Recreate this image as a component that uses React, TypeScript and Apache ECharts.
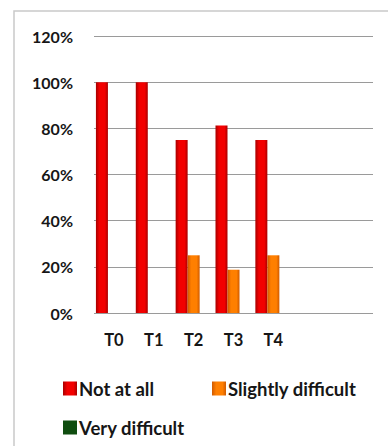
import React, { useEffect, useRef } from "react";
import * as echarts from "echarts";

// Time points (two trailing empty slots keep the plot's spacing)
const categories = ["T0", "T1", "T2", "T3", "T4", "", ""];
const notAtAll = [100, 100, 75, 81.25, 75, null, null];
const slightlyDifficult = [0, 0, 25, 18.75, 25, null, null];
const veryDifficult = [0, 0, 0, 0, 0, null, null];
const yTicks = [0, 20, 40, 60, 80, 100, 120];

const FONT = "Lato";
const TEXT = "#161616";

function barGradient(edge: string, mid: string) {
  return new echarts.graphic.LinearGradient(0, 0, 1, 0, [
    { offset: 0, color: edge },
    { offset: 0.3, color: mid },
    { offset: 0.75, color: mid },
    { offset: 1, color: edge },
  ]);
}

export default function App() {
  const ref = useRef<HTMLDivElement>(null);

  useEffect(() => {
    if (!ref.current) return;
    const chart = echarts.init(ref.current, undefined, { renderer: "svg" });

    const legendText = {
      fontFamily: FONT,
      fontWeight: "bold" as const,
      fontSize: 18.5,
      color: TEXT,
      padding: [0, 0, 0, -3],
    };
    const legendBase = {
      padding: 0,
      itemWidth: 14,
      itemHeight: 14,
      icon: "rect",
      textStyle: legendText,
    };

    chart.setOption({
      animation: false,
      backgroundColor: "#ffffff",
      graphic: [
        {
          type: "polyline",
          shape: { points: [[14, 460], [14, 11], [400, 11]] },
          style: { stroke: "#c9c9c9", lineWidth: 1.5, fill: "none" },
        },
      ],
      grid: { left: 94, right: 15, top: 36, bottom: 133 },
      xAxis: {
        type: "category",
        data: categories,
        axisLine: { show: false },
        axisTick: { show: false },
        axisLabel: {
          margin: 18,
          fontFamily: FONT,
          fontWeight: "bold",
          fontSize: 16.5,
          color: TEXT,
        },
      },
      yAxis: {
        type: "value",
        min: yTicks[0],
        max: yTicks[yTicks.length - 1],
        interval: 20,
        axisLine: { show: false },
        axisTick: { show: false },
        splitLine: { lineStyle: { color: "#9a9a9a", width: 1.2 } },
        axisLabel: {
          margin: 21,
          fontFamily: FONT,
          fontWeight: "bold",
          fontSize: 16,
          color: TEXT,
          formatter: (v: number) => `${v}%`,
        },
      },
      legend: [
        { ...legendBase, data: ["Not at all"], left: 63, top: 379 },
        { ...legendBase, data: ["Slightly difficult"], left: 212, top: 379 },
        { ...legendBase, data: ["Very difficult"], left: 63, top: 418 },
      ],
      series: [
        {
          name: "Not at all",
          type: "bar",
          data: notAtAll,
          barWidth: 12,
          barGap: "0%",
          itemStyle: { color: barGradient("#a80000", "#f20000") },
        },
        {
          name: "Slightly difficult",
          type: "bar",
          data: slightlyDifficult,
          barWidth: 12,
          itemStyle: { color: barGradient("#d05a00", "#ff7f00") },
        },
        {
          name: "Very difficult",
          type: "bar",
          data: veryDifficult,
          barWidth: 12,
          itemStyle: { color: "#0f4d0f" },
        },
      ],
    });

    return () => chart.dispose();
  }, []);

  return (
    <div
      ref={ref}
      style={{ position: "fixed", left: 0, top: 0, width: 388, height: 446 }}
    />
  );
}
